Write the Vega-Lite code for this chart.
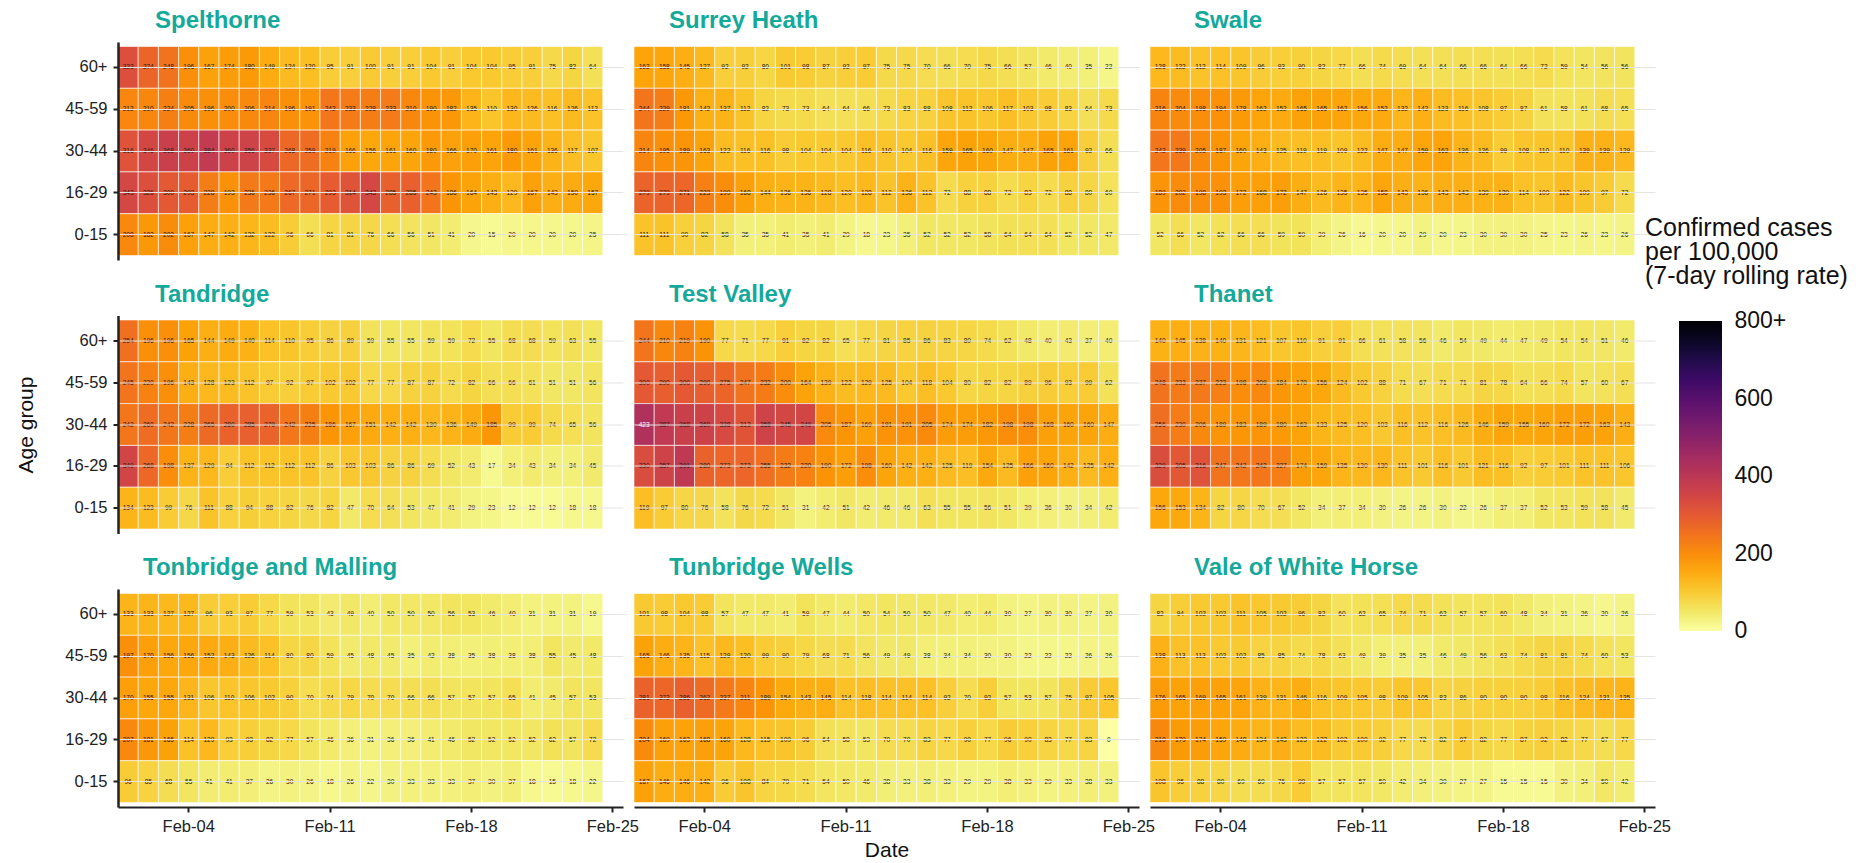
{"$schema":"https://vega.github.io/schema/vega-lite/v6.json","autosize":{"type":"pad"},"padding":{"left":15,"top":9,"right":0,"bottom":0},"background":"white","columns":3,"spacing":{"row":55.5,"column":11},"bounds":"flush",
"config":{"view":{"stroke":null},"font":"Liberation Sans","title":{"fontSize":24,"font":"Liberation Sans","fontWeight":"bold","color":"#14A99A","anchor":"start","offset":9,"frame":"group"},"axis":{"labelFont":"Liberation Sans","titleFont":"Liberation Sans","labelFontSize":16.5,"labelColor":"#222","titleFontSize":21,"titleFontWeight":"normal","titleColor":"#111","domainColor":"#222","tickColor":"#222","tickSize":5,"grid":false,"labelAngle":0},"axisX":{"domainWidth":2,"tickWidth":2,"labelPadding":6,"titlePadding":5,"labelExpr":"'Feb-'+(datum.value<10?'0':'')+datum.value"},"axisY":{"domainWidth":2.5,"tickWidth":2,"labelPadding":6,"titlePadding":28.6,"grid":true,"gridColor":"#e4e4e4","gridWidth":1},"scale":{"bandPaddingInner":0,"bandPaddingOuter":0}},
"data":{"values":[
{"p":1,"g":"60+","d":1,"v":323},{"p":1,"g":"60+","d":2,"v":274},{"p":1,"g":"60+","d":3,"v":248},{"p":1,"g":"60+","d":4,"v":196},{"p":1,"g":"60+","d":5,"v":167},{"p":1,"g":"60+","d":6,"v":174},{"p":1,"g":"60+","d":7,"v":180},{"p":1,"g":"60+","d":8,"v":149},{"p":1,"g":"60+","d":9,"v":124},{"p":1,"g":"60+","d":10,"v":120},{"p":1,"g":"60+","d":11,"v":95},{"p":1,"g":"60+","d":12,"v":91},{"p":1,"g":"60+","d":13,"v":100},{"p":1,"g":"60+","d":14,"v":91},{"p":1,"g":"60+","d":15,"v":91},{"p":1,"g":"60+","d":16,"v":104},{"p":1,"g":"60+","d":17,"v":91},{"p":1,"g":"60+","d":18,"v":104},{"p":1,"g":"60+","d":19,"v":104},{"p":1,"g":"60+","d":20,"v":95},{"p":1,"g":"60+","d":21,"v":91},{"p":1,"g":"60+","d":22,"v":75},{"p":1,"g":"60+","d":23,"v":82},{"p":1,"g":"60+","d":24,"v":64},
{"p":1,"g":"45-59","d":1,"v":212},{"p":1,"g":"45-59","d":2,"v":210},{"p":1,"g":"45-59","d":3,"v":224},{"p":1,"g":"45-59","d":4,"v":205},{"p":1,"g":"45-59","d":5,"v":196},{"p":1,"g":"45-59","d":6,"v":200},{"p":1,"g":"45-59","d":7,"v":206},{"p":1,"g":"45-59","d":8,"v":214},{"p":1,"g":"45-59","d":9,"v":196},{"p":1,"g":"45-59","d":10,"v":191},{"p":1,"g":"45-59","d":11,"v":242},{"p":1,"g":"45-59","d":12,"v":233},{"p":1,"g":"45-59","d":13,"v":228},{"p":1,"g":"45-59","d":14,"v":233},{"p":1,"g":"45-59","d":15,"v":210},{"p":1,"g":"45-59","d":16,"v":190},{"p":1,"g":"45-59","d":17,"v":182},{"p":1,"g":"45-59","d":18,"v":135},{"p":1,"g":"45-59","d":19,"v":110},{"p":1,"g":"45-59","d":20,"v":130},{"p":1,"g":"45-59","d":21,"v":126},{"p":1,"g":"45-59","d":22,"v":116},{"p":1,"g":"45-59","d":23,"v":126},{"p":1,"g":"45-59","d":24,"v":112},
{"p":1,"g":"30-44","d":1,"v":316},{"p":1,"g":"30-44","d":2,"v":346},{"p":1,"g":"30-44","d":3,"v":368},{"p":1,"g":"30-44","d":4,"v":360},{"p":1,"g":"30-44","d":5,"v":384},{"p":1,"g":"30-44","d":6,"v":360},{"p":1,"g":"30-44","d":7,"v":356},{"p":1,"g":"30-44","d":8,"v":337},{"p":1,"g":"30-44","d":9,"v":268},{"p":1,"g":"30-44","d":10,"v":259},{"p":1,"g":"30-44","d":11,"v":219},{"p":1,"g":"30-44","d":12,"v":166},{"p":1,"g":"30-44","d":13,"v":156},{"p":1,"g":"30-44","d":14,"v":161},{"p":1,"g":"30-44","d":15,"v":160},{"p":1,"g":"30-44","d":16,"v":180},{"p":1,"g":"30-44","d":17,"v":166},{"p":1,"g":"30-44","d":18,"v":170},{"p":1,"g":"30-44","d":19,"v":161},{"p":1,"g":"30-44","d":20,"v":180},{"p":1,"g":"30-44","d":21,"v":161},{"p":1,"g":"30-44","d":22,"v":136},{"p":1,"g":"30-44","d":23,"v":117},{"p":1,"g":"30-44","d":24,"v":107},
{"p":1,"g":"16-29","d":1,"v":343},{"p":1,"g":"16-29","d":2,"v":326},{"p":1,"g":"16-29","d":3,"v":300},{"p":1,"g":"16-29","d":4,"v":293},{"p":1,"g":"16-29","d":5,"v":228},{"p":1,"g":"16-29","d":6,"v":193},{"p":1,"g":"16-29","d":7,"v":236},{"p":1,"g":"16-29","d":8,"v":236},{"p":1,"g":"16-29","d":9,"v":267},{"p":1,"g":"16-29","d":10,"v":271},{"p":1,"g":"16-29","d":11,"v":293},{"p":1,"g":"16-29","d":12,"v":314},{"p":1,"g":"16-29","d":13,"v":343},{"p":1,"g":"16-29","d":14,"v":285},{"p":1,"g":"16-29","d":15,"v":285},{"p":1,"g":"16-29","d":16,"v":243},{"p":1,"g":"16-29","d":17,"v":186},{"p":1,"g":"16-29","d":18,"v":164},{"p":1,"g":"16-29","d":19,"v":143},{"p":1,"g":"16-29","d":20,"v":129},{"p":1,"g":"16-29","d":21,"v":167},{"p":1,"g":"16-29","d":22,"v":143},{"p":1,"g":"16-29","d":23,"v":150},{"p":1,"g":"16-29","d":24,"v":157},
{"p":1,"g":"0-15","d":1,"v":208},{"p":1,"g":"0-15","d":2,"v":182},{"p":1,"g":"0-15","d":3,"v":202},{"p":1,"g":"0-15","d":4,"v":167},{"p":1,"g":"0-15","d":5,"v":147},{"p":1,"g":"0-15","d":6,"v":142},{"p":1,"g":"0-15","d":7,"v":132},{"p":1,"g":"0-15","d":8,"v":122},{"p":1,"g":"0-15","d":9,"v":96},{"p":1,"g":"0-15","d":10,"v":66},{"p":1,"g":"0-15","d":11,"v":81},{"p":1,"g":"0-15","d":12,"v":81},{"p":1,"g":"0-15","d":13,"v":76},{"p":1,"g":"0-15","d":14,"v":66},{"p":1,"g":"0-15","d":15,"v":56},{"p":1,"g":"0-15","d":16,"v":51},{"p":1,"g":"0-15","d":17,"v":41},{"p":1,"g":"0-15","d":18,"v":20},{"p":1,"g":"0-15","d":19,"v":15},{"p":1,"g":"0-15","d":20,"v":20},{"p":1,"g":"0-15","d":21,"v":20},{"p":1,"g":"0-15","d":22,"v":20},{"p":1,"g":"0-15","d":23,"v":20},{"p":1,"g":"0-15","d":24,"v":25},
{"p":2,"g":"60+","d":1,"v":162},{"p":2,"g":"60+","d":2,"v":158},{"p":2,"g":"60+","d":3,"v":145},{"p":2,"g":"60+","d":4,"v":127},{"p":2,"g":"60+","d":5,"v":92},{"p":2,"g":"60+","d":6,"v":92},{"p":2,"g":"60+","d":7,"v":80},{"p":2,"g":"60+","d":8,"v":101},{"p":2,"g":"60+","d":9,"v":98},{"p":2,"g":"60+","d":10,"v":87},{"p":2,"g":"60+","d":11,"v":92},{"p":2,"g":"60+","d":12,"v":97},{"p":2,"g":"60+","d":13,"v":75},{"p":2,"g":"60+","d":14,"v":75},{"p":2,"g":"60+","d":15,"v":70},{"p":2,"g":"60+","d":16,"v":66},{"p":2,"g":"60+","d":17,"v":70},{"p":2,"g":"60+","d":18,"v":75},{"p":2,"g":"60+","d":19,"v":66},{"p":2,"g":"60+","d":20,"v":57},{"p":2,"g":"60+","d":21,"v":46},{"p":2,"g":"60+","d":22,"v":40},{"p":2,"g":"60+","d":23,"v":35},{"p":2,"g":"60+","d":24,"v":22},
{"p":2,"g":"45-59","d":1,"v":244},{"p":2,"g":"45-59","d":2,"v":229},{"p":2,"g":"45-59","d":3,"v":181},{"p":2,"g":"45-59","d":4,"v":142},{"p":2,"g":"45-59","d":5,"v":137},{"p":2,"g":"45-59","d":6,"v":112},{"p":2,"g":"45-59","d":7,"v":82},{"p":2,"g":"45-59","d":8,"v":73},{"p":2,"g":"45-59","d":9,"v":73},{"p":2,"g":"45-59","d":10,"v":64},{"p":2,"g":"45-59","d":11,"v":64},{"p":2,"g":"45-59","d":12,"v":66},{"p":2,"g":"45-59","d":13,"v":73},{"p":2,"g":"45-59","d":14,"v":83},{"p":2,"g":"45-59","d":15,"v":88},{"p":2,"g":"45-59","d":16,"v":108},{"p":2,"g":"45-59","d":17,"v":112},{"p":2,"g":"45-59","d":18,"v":106},{"p":2,"g":"45-59","d":19,"v":117},{"p":2,"g":"45-59","d":20,"v":103},{"p":2,"g":"45-59","d":21,"v":98},{"p":2,"g":"45-59","d":22,"v":83},{"p":2,"g":"45-59","d":23,"v":64},{"p":2,"g":"45-59","d":24,"v":73},
{"p":2,"g":"30-44","d":1,"v":214},{"p":2,"g":"30-44","d":2,"v":195},{"p":2,"g":"30-44","d":3,"v":189},{"p":2,"g":"30-44","d":4,"v":163},{"p":2,"g":"30-44","d":5,"v":122},{"p":2,"g":"30-44","d":6,"v":116},{"p":2,"g":"30-44","d":7,"v":116},{"p":2,"g":"30-44","d":8,"v":98},{"p":2,"g":"30-44","d":9,"v":104},{"p":2,"g":"30-44","d":10,"v":104},{"p":2,"g":"30-44","d":11,"v":104},{"p":2,"g":"30-44","d":12,"v":116},{"p":2,"g":"30-44","d":13,"v":110},{"p":2,"g":"30-44","d":14,"v":104},{"p":2,"g":"30-44","d":15,"v":116},{"p":2,"g":"30-44","d":16,"v":159},{"p":2,"g":"30-44","d":17,"v":165},{"p":2,"g":"30-44","d":18,"v":160},{"p":2,"g":"30-44","d":19,"v":147},{"p":2,"g":"30-44","d":20,"v":147},{"p":2,"g":"30-44","d":21,"v":165},{"p":2,"g":"30-44","d":22,"v":161},{"p":2,"g":"30-44","d":23,"v":92},{"p":2,"g":"30-44","d":24,"v":66},
{"p":2,"g":"16-29","d":1,"v":279},{"p":2,"g":"16-29","d":2,"v":279},{"p":2,"g":"16-29","d":3,"v":271},{"p":2,"g":"16-29","d":4,"v":223},{"p":2,"g":"16-29","d":5,"v":199},{"p":2,"g":"16-29","d":6,"v":168},{"p":2,"g":"16-29","d":7,"v":144},{"p":2,"g":"16-29","d":8,"v":136},{"p":2,"g":"16-29","d":9,"v":136},{"p":2,"g":"16-29","d":10,"v":128},{"p":2,"g":"16-29","d":11,"v":120},{"p":2,"g":"16-29","d":12,"v":128},{"p":2,"g":"16-29","d":13,"v":112},{"p":2,"g":"16-29","d":14,"v":136},{"p":2,"g":"16-29","d":15,"v":112},{"p":2,"g":"16-29","d":16,"v":72},{"p":2,"g":"16-29","d":17,"v":88},{"p":2,"g":"16-29","d":18,"v":88},{"p":2,"g":"16-29","d":19,"v":72},{"p":2,"g":"16-29","d":20,"v":83},{"p":2,"g":"16-29","d":21,"v":72},{"p":2,"g":"16-29","d":22,"v":88},{"p":2,"g":"16-29","d":23,"v":80},{"p":2,"g":"16-29","d":24,"v":60},
{"p":2,"g":"0-15","d":1,"v":111},{"p":2,"g":"0-15","d":2,"v":111},{"p":2,"g":"0-15","d":3,"v":90},{"p":2,"g":"0-15","d":4,"v":82},{"p":2,"g":"0-15","d":5,"v":58},{"p":2,"g":"0-15","d":6,"v":35},{"p":2,"g":"0-15","d":7,"v":35},{"p":2,"g":"0-15","d":8,"v":41},{"p":2,"g":"0-15","d":9,"v":35},{"p":2,"g":"0-15","d":10,"v":41},{"p":2,"g":"0-15","d":11,"v":29},{"p":2,"g":"0-15","d":12,"v":18},{"p":2,"g":"0-15","d":13,"v":23},{"p":2,"g":"0-15","d":14,"v":35},{"p":2,"g":"0-15","d":15,"v":52},{"p":2,"g":"0-15","d":16,"v":52},{"p":2,"g":"0-15","d":17,"v":52},{"p":2,"g":"0-15","d":18,"v":58},{"p":2,"g":"0-15","d":19,"v":64},{"p":2,"g":"0-15","d":20,"v":64},{"p":2,"g":"0-15","d":21,"v":64},{"p":2,"g":"0-15","d":22,"v":52},{"p":2,"g":"0-15","d":23,"v":52},{"p":2,"g":"0-15","d":24,"v":47},
{"p":3,"g":"60+","d":1,"v":128},{"p":3,"g":"60+","d":2,"v":122},{"p":3,"g":"60+","d":3,"v":112},{"p":3,"g":"60+","d":4,"v":114},{"p":3,"g":"60+","d":5,"v":109},{"p":3,"g":"60+","d":6,"v":96},{"p":3,"g":"60+","d":7,"v":93},{"p":3,"g":"60+","d":8,"v":90},{"p":3,"g":"60+","d":9,"v":82},{"p":3,"g":"60+","d":10,"v":77},{"p":3,"g":"60+","d":11,"v":66},{"p":3,"g":"60+","d":12,"v":74},{"p":3,"g":"60+","d":13,"v":69},{"p":3,"g":"60+","d":14,"v":64},{"p":3,"g":"60+","d":15,"v":64},{"p":3,"g":"60+","d":16,"v":66},{"p":3,"g":"60+","d":17,"v":66},{"p":3,"g":"60+","d":18,"v":64},{"p":3,"g":"60+","d":19,"v":66},{"p":3,"g":"60+","d":20,"v":72},{"p":3,"g":"60+","d":21,"v":59},{"p":3,"g":"60+","d":22,"v":54},{"p":3,"g":"60+","d":23,"v":56},{"p":3,"g":"60+","d":24,"v":56},
{"p":3,"g":"45-59","d":1,"v":216},{"p":3,"g":"45-59","d":2,"v":204},{"p":3,"g":"45-59","d":3,"v":198},{"p":3,"g":"45-59","d":4,"v":194},{"p":3,"g":"45-59","d":5,"v":178},{"p":3,"g":"45-59","d":6,"v":162},{"p":3,"g":"45-59","d":7,"v":152},{"p":3,"g":"45-59","d":8,"v":165},{"p":3,"g":"45-59","d":9,"v":165},{"p":3,"g":"45-59","d":10,"v":162},{"p":3,"g":"45-59","d":11,"v":156},{"p":3,"g":"45-59","d":12,"v":152},{"p":3,"g":"45-59","d":13,"v":132},{"p":3,"g":"45-59","d":14,"v":142},{"p":3,"g":"45-59","d":15,"v":123},{"p":3,"g":"45-59","d":16,"v":116},{"p":3,"g":"45-59","d":17,"v":108},{"p":3,"g":"45-59","d":18,"v":97},{"p":3,"g":"45-59","d":19,"v":87},{"p":3,"g":"45-59","d":20,"v":61},{"p":3,"g":"45-59","d":21,"v":58},{"p":3,"g":"45-59","d":22,"v":61},{"p":3,"g":"45-59","d":23,"v":68},{"p":3,"g":"45-59","d":24,"v":65},
{"p":3,"g":"30-44","d":1,"v":242},{"p":3,"g":"30-44","d":2,"v":239},{"p":3,"g":"30-44","d":3,"v":205},{"p":3,"g":"30-44","d":4,"v":187},{"p":3,"g":"30-44","d":5,"v":160},{"p":3,"g":"30-44","d":6,"v":143},{"p":3,"g":"30-44","d":7,"v":125},{"p":3,"g":"30-44","d":8,"v":119},{"p":3,"g":"30-44","d":9,"v":119},{"p":3,"g":"30-44","d":10,"v":109},{"p":3,"g":"30-44","d":11,"v":122},{"p":3,"g":"30-44","d":12,"v":147},{"p":3,"g":"30-44","d":13,"v":147},{"p":3,"g":"30-44","d":14,"v":159},{"p":3,"g":"30-44","d":15,"v":162},{"p":3,"g":"30-44","d":16,"v":136},{"p":3,"g":"30-44","d":17,"v":126},{"p":3,"g":"30-44","d":18,"v":99},{"p":3,"g":"30-44","d":19,"v":108},{"p":3,"g":"30-44","d":20,"v":110},{"p":3,"g":"30-44","d":21,"v":110},{"p":3,"g":"30-44","d":22,"v":139},{"p":3,"g":"30-44","d":23,"v":139},{"p":3,"g":"30-44","d":24,"v":129},
{"p":3,"g":"16-29","d":1,"v":189},{"p":3,"g":"16-29","d":2,"v":202},{"p":3,"g":"16-29","d":3,"v":198},{"p":3,"g":"16-29","d":4,"v":193},{"p":3,"g":"16-29","d":5,"v":172},{"p":3,"g":"16-29","d":6,"v":168},{"p":3,"g":"16-29","d":7,"v":172},{"p":3,"g":"16-29","d":8,"v":147},{"p":3,"g":"16-29","d":9,"v":126},{"p":3,"g":"16-29","d":10,"v":135},{"p":3,"g":"16-29","d":11,"v":135},{"p":3,"g":"16-29","d":12,"v":158},{"p":3,"g":"16-29","d":13,"v":143},{"p":3,"g":"16-29","d":14,"v":136},{"p":3,"g":"16-29","d":15,"v":143},{"p":3,"g":"16-29","d":16,"v":143},{"p":3,"g":"16-29","d":17,"v":139},{"p":3,"g":"16-29","d":18,"v":139},{"p":3,"g":"16-29","d":19,"v":114},{"p":3,"g":"16-29","d":20,"v":109},{"p":3,"g":"16-29","d":21,"v":122},{"p":3,"g":"16-29","d":22,"v":109},{"p":3,"g":"16-29","d":23,"v":97},{"p":3,"g":"16-29","d":24,"v":72},
{"p":3,"g":"0-15","d":1,"v":52},{"p":3,"g":"0-15","d":2,"v":66},{"p":3,"g":"0-15","d":3,"v":52},{"p":3,"g":"0-15","d":4,"v":62},{"p":3,"g":"0-15","d":5,"v":66},{"p":3,"g":"0-15","d":6,"v":66},{"p":3,"g":"0-15","d":7,"v":59},{"p":3,"g":"0-15","d":8,"v":59},{"p":3,"g":"0-15","d":9,"v":39},{"p":3,"g":"0-15","d":10,"v":26},{"p":3,"g":"0-15","d":11,"v":16},{"p":3,"g":"0-15","d":12,"v":20},{"p":3,"g":"0-15","d":13,"v":20},{"p":3,"g":"0-15","d":14,"v":29},{"p":3,"g":"0-15","d":15,"v":20},{"p":3,"g":"0-15","d":16,"v":23},{"p":3,"g":"0-15","d":17,"v":30},{"p":3,"g":"0-15","d":18,"v":30},{"p":3,"g":"0-15","d":19,"v":30},{"p":3,"g":"0-15","d":20,"v":25},{"p":3,"g":"0-15","d":21,"v":23},{"p":3,"g":"0-15","d":22,"v":26},{"p":3,"g":"0-15","d":23,"v":23},{"p":3,"g":"0-15","d":24,"v":26},
{"p":4,"g":"60+","d":1,"v":254},{"p":4,"g":"60+","d":2,"v":196},{"p":4,"g":"60+","d":3,"v":196},{"p":4,"g":"60+","d":4,"v":165},{"p":4,"g":"60+","d":5,"v":144},{"p":4,"g":"60+","d":6,"v":149},{"p":4,"g":"60+","d":7,"v":140},{"p":4,"g":"60+","d":8,"v":114},{"p":4,"g":"60+","d":9,"v":110},{"p":4,"g":"60+","d":10,"v":95},{"p":4,"g":"60+","d":11,"v":86},{"p":4,"g":"60+","d":12,"v":89},{"p":4,"g":"60+","d":13,"v":59},{"p":4,"g":"60+","d":14,"v":55},{"p":4,"g":"60+","d":15,"v":55},{"p":4,"g":"60+","d":16,"v":59},{"p":4,"g":"60+","d":17,"v":59},{"p":4,"g":"60+","d":18,"v":72},{"p":4,"g":"60+","d":19,"v":55},{"p":4,"g":"60+","d":20,"v":68},{"p":4,"g":"60+","d":21,"v":68},{"p":4,"g":"60+","d":22,"v":59},{"p":4,"g":"60+","d":23,"v":63},{"p":4,"g":"60+","d":24,"v":55},
{"p":4,"g":"45-59","d":1,"v":245},{"p":4,"g":"45-59","d":2,"v":220},{"p":4,"g":"45-59","d":3,"v":196},{"p":4,"g":"45-59","d":4,"v":143},{"p":4,"g":"45-59","d":5,"v":128},{"p":4,"g":"45-59","d":6,"v":123},{"p":4,"g":"45-59","d":7,"v":112},{"p":4,"g":"45-59","d":8,"v":97},{"p":4,"g":"45-59","d":9,"v":92},{"p":4,"g":"45-59","d":10,"v":97},{"p":4,"g":"45-59","d":11,"v":102},{"p":4,"g":"45-59","d":12,"v":102},{"p":4,"g":"45-59","d":13,"v":77},{"p":4,"g":"45-59","d":14,"v":77},{"p":4,"g":"45-59","d":15,"v":87},{"p":4,"g":"45-59","d":16,"v":87},{"p":4,"g":"45-59","d":17,"v":72},{"p":4,"g":"45-59","d":18,"v":82},{"p":4,"g":"45-59","d":19,"v":66},{"p":4,"g":"45-59","d":20,"v":66},{"p":4,"g":"45-59","d":21,"v":61},{"p":4,"g":"45-59","d":22,"v":51},{"p":4,"g":"45-59","d":23,"v":51},{"p":4,"g":"45-59","d":24,"v":56},
{"p":4,"g":"30-44","d":1,"v":242},{"p":4,"g":"30-44","d":2,"v":260},{"p":4,"g":"30-44","d":3,"v":242},{"p":4,"g":"30-44","d":4,"v":228},{"p":4,"g":"30-44","d":5,"v":265},{"p":4,"g":"30-44","d":6,"v":280},{"p":4,"g":"30-44","d":7,"v":285},{"p":4,"g":"30-44","d":8,"v":279},{"p":4,"g":"30-44","d":9,"v":242},{"p":4,"g":"30-44","d":10,"v":225},{"p":4,"g":"30-44","d":11,"v":186},{"p":4,"g":"30-44","d":12,"v":167},{"p":4,"g":"30-44","d":13,"v":151},{"p":4,"g":"30-44","d":14,"v":142},{"p":4,"g":"30-44","d":15,"v":142},{"p":4,"g":"30-44","d":16,"v":130},{"p":4,"g":"30-44","d":17,"v":136},{"p":4,"g":"30-44","d":18,"v":149},{"p":4,"g":"30-44","d":19,"v":185},{"p":4,"g":"30-44","d":20,"v":99},{"p":4,"g":"30-44","d":21,"v":99},{"p":4,"g":"30-44","d":22,"v":74},{"p":4,"g":"30-44","d":23,"v":65},{"p":4,"g":"30-44","d":24,"v":56},
{"p":4,"g":"16-29","d":1,"v":349},{"p":4,"g":"16-29","d":2,"v":268},{"p":4,"g":"16-29","d":3,"v":198},{"p":4,"g":"16-29","d":4,"v":137},{"p":4,"g":"16-29","d":5,"v":129},{"p":4,"g":"16-29","d":6,"v":94},{"p":4,"g":"16-29","d":7,"v":112},{"p":4,"g":"16-29","d":8,"v":112},{"p":4,"g":"16-29","d":9,"v":112},{"p":4,"g":"16-29","d":10,"v":112},{"p":4,"g":"16-29","d":11,"v":86},{"p":4,"g":"16-29","d":12,"v":103},{"p":4,"g":"16-29","d":13,"v":103},{"p":4,"g":"16-29","d":14,"v":86},{"p":4,"g":"16-29","d":15,"v":86},{"p":4,"g":"16-29","d":16,"v":69},{"p":4,"g":"16-29","d":17,"v":52},{"p":4,"g":"16-29","d":18,"v":43},{"p":4,"g":"16-29","d":19,"v":17},{"p":4,"g":"16-29","d":20,"v":34},{"p":4,"g":"16-29","d":21,"v":43},{"p":4,"g":"16-29","d":22,"v":34},{"p":4,"g":"16-29","d":23,"v":34},{"p":4,"g":"16-29","d":24,"v":45},
{"p":4,"g":"0-15","d":1,"v":134},{"p":4,"g":"0-15","d":2,"v":123},{"p":4,"g":"0-15","d":3,"v":99},{"p":4,"g":"0-15","d":4,"v":76},{"p":4,"g":"0-15","d":5,"v":111},{"p":4,"g":"0-15","d":6,"v":88},{"p":4,"g":"0-15","d":7,"v":94},{"p":4,"g":"0-15","d":8,"v":88},{"p":4,"g":"0-15","d":9,"v":82},{"p":4,"g":"0-15","d":10,"v":76},{"p":4,"g":"0-15","d":11,"v":82},{"p":4,"g":"0-15","d":12,"v":47},{"p":4,"g":"0-15","d":13,"v":70},{"p":4,"g":"0-15","d":14,"v":64},{"p":4,"g":"0-15","d":15,"v":53},{"p":4,"g":"0-15","d":16,"v":47},{"p":4,"g":"0-15","d":17,"v":41},{"p":4,"g":"0-15","d":18,"v":29},{"p":4,"g":"0-15","d":19,"v":23},{"p":4,"g":"0-15","d":20,"v":12},{"p":4,"g":"0-15","d":21,"v":12},{"p":4,"g":"0-15","d":22,"v":12},{"p":4,"g":"0-15","d":23,"v":18},{"p":4,"g":"0-15","d":24,"v":18},
{"p":5,"g":"60+","d":1,"v":244},{"p":5,"g":"60+","d":2,"v":210},{"p":5,"g":"60+","d":3,"v":219},{"p":5,"g":"60+","d":4,"v":190},{"p":5,"g":"60+","d":5,"v":77},{"p":5,"g":"60+","d":6,"v":71},{"p":5,"g":"60+","d":7,"v":77},{"p":5,"g":"60+","d":8,"v":91},{"p":5,"g":"60+","d":9,"v":82},{"p":5,"g":"60+","d":10,"v":82},{"p":5,"g":"60+","d":11,"v":65},{"p":5,"g":"60+","d":12,"v":77},{"p":5,"g":"60+","d":13,"v":81},{"p":5,"g":"60+","d":14,"v":85},{"p":5,"g":"60+","d":15,"v":86},{"p":5,"g":"60+","d":16,"v":83},{"p":5,"g":"60+","d":17,"v":80},{"p":5,"g":"60+","d":18,"v":74},{"p":5,"g":"60+","d":19,"v":62},{"p":5,"g":"60+","d":20,"v":48},{"p":5,"g":"60+","d":21,"v":40},{"p":5,"g":"60+","d":22,"v":43},{"p":5,"g":"60+","d":23,"v":37},{"p":5,"g":"60+","d":24,"v":40},
{"p":5,"g":"45-59","d":1,"v":300},{"p":5,"g":"45-59","d":2,"v":290},{"p":5,"g":"45-59","d":3,"v":300},{"p":5,"g":"45-59","d":4,"v":290},{"p":5,"g":"45-59","d":5,"v":275},{"p":5,"g":"45-59","d":6,"v":247},{"p":5,"g":"45-59","d":7,"v":232},{"p":5,"g":"45-59","d":8,"v":200},{"p":5,"g":"45-59","d":9,"v":164},{"p":5,"g":"45-59","d":10,"v":139},{"p":5,"g":"45-59","d":11,"v":122},{"p":5,"g":"45-59","d":12,"v":129},{"p":5,"g":"45-59","d":13,"v":125},{"p":5,"g":"45-59","d":14,"v":104},{"p":5,"g":"45-59","d":15,"v":118},{"p":5,"g":"45-59","d":16,"v":104},{"p":5,"g":"45-59","d":17,"v":80},{"p":5,"g":"45-59","d":18,"v":82},{"p":5,"g":"45-59","d":19,"v":82},{"p":5,"g":"45-59","d":20,"v":89},{"p":5,"g":"45-59","d":21,"v":96},{"p":5,"g":"45-59","d":22,"v":93},{"p":5,"g":"45-59","d":23,"v":99},{"p":5,"g":"45-59","d":24,"v":62},
{"p":5,"g":"30-44","d":1,"v":423},{"p":5,"g":"30-44","d":2,"v":387},{"p":5,"g":"30-44","d":3,"v":368},{"p":5,"g":"30-44","d":4,"v":360},{"p":5,"g":"30-44","d":5,"v":338},{"p":5,"g":"30-44","d":6,"v":313},{"p":5,"g":"30-44","d":7,"v":358},{"p":5,"g":"30-44","d":8,"v":345},{"p":5,"g":"30-44","d":9,"v":349},{"p":5,"g":"30-44","d":10,"v":205},{"p":5,"g":"30-44","d":11,"v":187},{"p":5,"g":"30-44","d":12,"v":169},{"p":5,"g":"30-44","d":13,"v":191},{"p":5,"g":"30-44","d":14,"v":191},{"p":5,"g":"30-44","d":15,"v":205},{"p":5,"g":"30-44","d":16,"v":174},{"p":5,"g":"30-44","d":17,"v":174},{"p":5,"g":"30-44","d":18,"v":182},{"p":5,"g":"30-44","d":19,"v":198},{"p":5,"g":"30-44","d":20,"v":198},{"p":5,"g":"30-44","d":21,"v":168},{"p":5,"g":"30-44","d":22,"v":160},{"p":5,"g":"30-44","d":23,"v":160},{"p":5,"g":"30-44","d":24,"v":147},
{"p":5,"g":"16-29","d":1,"v":330},{"p":5,"g":"16-29","d":2,"v":357},{"p":5,"g":"16-29","d":3,"v":391},{"p":5,"g":"16-29","d":4,"v":280},{"p":5,"g":"16-29","d":5,"v":273},{"p":5,"g":"16-29","d":6,"v":273},{"p":5,"g":"16-29","d":7,"v":255},{"p":5,"g":"16-29","d":8,"v":232},{"p":5,"g":"16-29","d":9,"v":220},{"p":5,"g":"16-29","d":10,"v":190},{"p":5,"g":"16-29","d":11,"v":172},{"p":5,"g":"16-29","d":12,"v":198},{"p":5,"g":"16-29","d":13,"v":160},{"p":5,"g":"16-29","d":14,"v":142},{"p":5,"g":"16-29","d":15,"v":142},{"p":5,"g":"16-29","d":16,"v":125},{"p":5,"g":"16-29","d":17,"v":119},{"p":5,"g":"16-29","d":18,"v":154},{"p":5,"g":"16-29","d":19,"v":125},{"p":5,"g":"16-29","d":20,"v":166},{"p":5,"g":"16-29","d":21,"v":160},{"p":5,"g":"16-29","d":22,"v":142},{"p":5,"g":"16-29","d":23,"v":125},{"p":5,"g":"16-29","d":24,"v":142},
{"p":5,"g":"0-15","d":1,"v":119},{"p":5,"g":"0-15","d":2,"v":97},{"p":5,"g":"0-15","d":3,"v":80},{"p":5,"g":"0-15","d":4,"v":76},{"p":5,"g":"0-15","d":5,"v":58},{"p":5,"g":"0-15","d":6,"v":76},{"p":5,"g":"0-15","d":7,"v":72},{"p":5,"g":"0-15","d":8,"v":51},{"p":5,"g":"0-15","d":9,"v":31},{"p":5,"g":"0-15","d":10,"v":42},{"p":5,"g":"0-15","d":11,"v":51},{"p":5,"g":"0-15","d":12,"v":42},{"p":5,"g":"0-15","d":13,"v":46},{"p":5,"g":"0-15","d":14,"v":46},{"p":5,"g":"0-15","d":15,"v":63},{"p":5,"g":"0-15","d":16,"v":55},{"p":5,"g":"0-15","d":17,"v":55},{"p":5,"g":"0-15","d":18,"v":56},{"p":5,"g":"0-15","d":19,"v":51},{"p":5,"g":"0-15","d":20,"v":39},{"p":5,"g":"0-15","d":21,"v":36},{"p":5,"g":"0-15","d":22,"v":30},{"p":5,"g":"0-15","d":23,"v":34},{"p":5,"g":"0-15","d":24,"v":42},
{"p":6,"g":"60+","d":1,"v":140},{"p":6,"g":"60+","d":2,"v":145},{"p":6,"g":"60+","d":3,"v":138},{"p":6,"g":"60+","d":4,"v":140},{"p":6,"g":"60+","d":5,"v":131},{"p":6,"g":"60+","d":6,"v":121},{"p":6,"g":"60+","d":7,"v":107},{"p":6,"g":"60+","d":8,"v":110},{"p":6,"g":"60+","d":9,"v":91},{"p":6,"g":"60+","d":10,"v":91},{"p":6,"g":"60+","d":11,"v":66},{"p":6,"g":"60+","d":12,"v":61},{"p":6,"g":"60+","d":13,"v":58},{"p":6,"g":"60+","d":14,"v":56},{"p":6,"g":"60+","d":15,"v":46},{"p":6,"g":"60+","d":16,"v":54},{"p":6,"g":"60+","d":17,"v":49},{"p":6,"g":"60+","d":18,"v":44},{"p":6,"g":"60+","d":19,"v":47},{"p":6,"g":"60+","d":20,"v":49},{"p":6,"g":"60+","d":21,"v":54},{"p":6,"g":"60+","d":22,"v":54},{"p":6,"g":"60+","d":23,"v":51},{"p":6,"g":"60+","d":24,"v":46},
{"p":6,"g":"45-59","d":1,"v":248},{"p":6,"g":"45-59","d":2,"v":233},{"p":6,"g":"45-59","d":3,"v":237},{"p":6,"g":"45-59","d":4,"v":223},{"p":6,"g":"45-59","d":5,"v":198},{"p":6,"g":"45-59","d":6,"v":209},{"p":6,"g":"45-59","d":7,"v":184},{"p":6,"g":"45-59","d":8,"v":170},{"p":6,"g":"45-59","d":9,"v":156},{"p":6,"g":"45-59","d":10,"v":124},{"p":6,"g":"45-59","d":11,"v":102},{"p":6,"g":"45-59","d":12,"v":88},{"p":6,"g":"45-59","d":13,"v":71},{"p":6,"g":"45-59","d":14,"v":67},{"p":6,"g":"45-59","d":15,"v":71},{"p":6,"g":"45-59","d":16,"v":71},{"p":6,"g":"45-59","d":17,"v":81},{"p":6,"g":"45-59","d":18,"v":78},{"p":6,"g":"45-59","d":19,"v":64},{"p":6,"g":"45-59","d":20,"v":66},{"p":6,"g":"45-59","d":21,"v":74},{"p":6,"g":"45-59","d":22,"v":57},{"p":6,"g":"45-59","d":23,"v":60},{"p":6,"g":"45-59","d":24,"v":67},
{"p":6,"g":"30-44","d":1,"v":256},{"p":6,"g":"30-44","d":2,"v":230},{"p":6,"g":"30-44","d":3,"v":206},{"p":6,"g":"30-44","d":4,"v":189},{"p":6,"g":"30-44","d":5,"v":183},{"p":6,"g":"30-44","d":6,"v":189},{"p":6,"g":"30-44","d":7,"v":180},{"p":6,"g":"30-44","d":8,"v":163},{"p":6,"g":"30-44","d":9,"v":133},{"p":6,"g":"30-44","d":10,"v":125},{"p":6,"g":"30-44","d":11,"v":120},{"p":6,"g":"30-44","d":12,"v":103},{"p":6,"g":"30-44","d":13,"v":116},{"p":6,"g":"30-44","d":14,"v":112},{"p":6,"g":"30-44","d":15,"v":116},{"p":6,"g":"30-44","d":16,"v":126},{"p":6,"g":"30-44","d":17,"v":146},{"p":6,"g":"30-44","d":18,"v":159},{"p":6,"g":"30-44","d":19,"v":155},{"p":6,"g":"30-44","d":20,"v":160},{"p":6,"g":"30-44","d":21,"v":172},{"p":6,"g":"30-44","d":22,"v":172},{"p":6,"g":"30-44","d":23,"v":163},{"p":6,"g":"30-44","d":24,"v":143},
{"p":6,"g":"16-29","d":1,"v":329},{"p":6,"g":"16-29","d":2,"v":305},{"p":6,"g":"16-29","d":3,"v":316},{"p":6,"g":"16-29","d":4,"v":247},{"p":6,"g":"16-29","d":5,"v":242},{"p":6,"g":"16-29","d":6,"v":242},{"p":6,"g":"16-29","d":7,"v":227},{"p":6,"g":"16-29","d":8,"v":174},{"p":6,"g":"16-29","d":9,"v":159},{"p":6,"g":"16-29","d":10,"v":135},{"p":6,"g":"16-29","d":11,"v":130},{"p":6,"g":"16-29","d":12,"v":130},{"p":6,"g":"16-29","d":13,"v":111},{"p":6,"g":"16-29","d":14,"v":101},{"p":6,"g":"16-29","d":15,"v":116},{"p":6,"g":"16-29","d":16,"v":101},{"p":6,"g":"16-29","d":17,"v":121},{"p":6,"g":"16-29","d":18,"v":116},{"p":6,"g":"16-29","d":19,"v":92},{"p":6,"g":"16-29","d":20,"v":97},{"p":6,"g":"16-29","d":21,"v":101},{"p":6,"g":"16-29","d":22,"v":111},{"p":6,"g":"16-29","d":23,"v":111},{"p":6,"g":"16-29","d":24,"v":106},
{"p":6,"g":"0-15","d":1,"v":156},{"p":6,"g":"0-15","d":2,"v":153},{"p":6,"g":"0-15","d":3,"v":134},{"p":6,"g":"0-15","d":4,"v":82},{"p":6,"g":"0-15","d":5,"v":80},{"p":6,"g":"0-15","d":6,"v":70},{"p":6,"g":"0-15","d":7,"v":67},{"p":6,"g":"0-15","d":8,"v":52},{"p":6,"g":"0-15","d":9,"v":34},{"p":6,"g":"0-15","d":10,"v":37},{"p":6,"g":"0-15","d":11,"v":34},{"p":6,"g":"0-15","d":12,"v":30},{"p":6,"g":"0-15","d":13,"v":26},{"p":6,"g":"0-15","d":14,"v":26},{"p":6,"g":"0-15","d":15,"v":30},{"p":6,"g":"0-15","d":16,"v":22},{"p":6,"g":"0-15","d":17,"v":26},{"p":6,"g":"0-15","d":18,"v":37},{"p":6,"g":"0-15","d":19,"v":37},{"p":6,"g":"0-15","d":20,"v":52},{"p":6,"g":"0-15","d":21,"v":53},{"p":6,"g":"0-15","d":22,"v":59},{"p":6,"g":"0-15","d":23,"v":58},{"p":6,"g":"0-15","d":24,"v":45},
{"p":7,"g":"60+","d":1,"v":133},{"p":7,"g":"60+","d":2,"v":133},{"p":7,"g":"60+","d":3,"v":127},{"p":7,"g":"60+","d":4,"v":127},{"p":7,"g":"60+","d":5,"v":96},{"p":7,"g":"60+","d":6,"v":93},{"p":7,"g":"60+","d":7,"v":97},{"p":7,"g":"60+","d":8,"v":77},{"p":7,"g":"60+","d":9,"v":59},{"p":7,"g":"60+","d":10,"v":53},{"p":7,"g":"60+","d":11,"v":43},{"p":7,"g":"60+","d":12,"v":49},{"p":7,"g":"60+","d":13,"v":40},{"p":7,"g":"60+","d":14,"v":50},{"p":7,"g":"60+","d":15,"v":50},{"p":7,"g":"60+","d":16,"v":50},{"p":7,"g":"60+","d":17,"v":56},{"p":7,"g":"60+","d":18,"v":53},{"p":7,"g":"60+","d":19,"v":46},{"p":7,"g":"60+","d":20,"v":40},{"p":7,"g":"60+","d":21,"v":31},{"p":7,"g":"60+","d":22,"v":31},{"p":7,"g":"60+","d":23,"v":31},{"p":7,"g":"60+","d":24,"v":19},
{"p":7,"g":"45-59","d":1,"v":197},{"p":7,"g":"45-59","d":2,"v":170},{"p":7,"g":"45-59","d":3,"v":156},{"p":7,"g":"45-59","d":4,"v":156},{"p":7,"g":"45-59","d":5,"v":152},{"p":7,"g":"45-59","d":6,"v":143},{"p":7,"g":"45-59","d":7,"v":126},{"p":7,"g":"45-59","d":8,"v":114},{"p":7,"g":"45-59","d":9,"v":80},{"p":7,"g":"45-59","d":10,"v":80},{"p":7,"g":"45-59","d":11,"v":59},{"p":7,"g":"45-59","d":12,"v":45},{"p":7,"g":"45-59","d":13,"v":48},{"p":7,"g":"45-59","d":14,"v":45},{"p":7,"g":"45-59","d":15,"v":35},{"p":7,"g":"45-59","d":16,"v":42},{"p":7,"g":"45-59","d":17,"v":38},{"p":7,"g":"45-59","d":18,"v":35},{"p":7,"g":"45-59","d":19,"v":38},{"p":7,"g":"45-59","d":20,"v":38},{"p":7,"g":"45-59","d":21,"v":38},{"p":7,"g":"45-59","d":22,"v":55},{"p":7,"g":"45-59","d":23,"v":45},{"p":7,"g":"45-59","d":24,"v":48},
{"p":7,"g":"30-44","d":1,"v":170},{"p":7,"g":"30-44","d":2,"v":155},{"p":7,"g":"30-44","d":3,"v":155},{"p":7,"g":"30-44","d":4,"v":131},{"p":7,"g":"30-44","d":5,"v":106},{"p":7,"g":"30-44","d":6,"v":110},{"p":7,"g":"30-44","d":7,"v":106},{"p":7,"g":"30-44","d":8,"v":102},{"p":7,"g":"30-44","d":9,"v":90},{"p":7,"g":"30-44","d":10,"v":70},{"p":7,"g":"30-44","d":11,"v":74},{"p":7,"g":"30-44","d":12,"v":79},{"p":7,"g":"30-44","d":13,"v":70},{"p":7,"g":"30-44","d":14,"v":70},{"p":7,"g":"30-44","d":15,"v":66},{"p":7,"g":"30-44","d":16,"v":66},{"p":7,"g":"30-44","d":17,"v":57},{"p":7,"g":"30-44","d":18,"v":57},{"p":7,"g":"30-44","d":19,"v":57},{"p":7,"g":"30-44","d":20,"v":65},{"p":7,"g":"30-44","d":21,"v":41},{"p":7,"g":"30-44","d":22,"v":45},{"p":7,"g":"30-44","d":23,"v":57},{"p":7,"g":"30-44","d":24,"v":53},
{"p":7,"g":"16-29","d":1,"v":207},{"p":7,"g":"16-29","d":2,"v":181},{"p":7,"g":"16-29","d":3,"v":165},{"p":7,"g":"16-29","d":4,"v":114},{"p":7,"g":"16-29","d":5,"v":129},{"p":7,"g":"16-29","d":6,"v":93},{"p":7,"g":"16-29","d":7,"v":93},{"p":7,"g":"16-29","d":8,"v":82},{"p":7,"g":"16-29","d":9,"v":77},{"p":7,"g":"16-29","d":10,"v":57},{"p":7,"g":"16-29","d":11,"v":46},{"p":7,"g":"16-29","d":12,"v":36},{"p":7,"g":"16-29","d":13,"v":31},{"p":7,"g":"16-29","d":14,"v":36},{"p":7,"g":"16-29","d":15,"v":36},{"p":7,"g":"16-29","d":16,"v":41},{"p":7,"g":"16-29","d":17,"v":46},{"p":7,"g":"16-29","d":18,"v":52},{"p":7,"g":"16-29","d":19,"v":52},{"p":7,"g":"16-29","d":20,"v":52},{"p":7,"g":"16-29","d":21,"v":52},{"p":7,"g":"16-29","d":22,"v":62},{"p":7,"g":"16-29","d":23,"v":57},{"p":7,"g":"16-29","d":24,"v":72},
{"p":7,"g":"0-15","d":1,"v":96},{"p":7,"g":"0-15","d":2,"v":85},{"p":7,"g":"0-15","d":3,"v":68},{"p":7,"g":"0-15","d":4,"v":55},{"p":7,"g":"0-15","d":5,"v":41},{"p":7,"g":"0-15","d":6,"v":41},{"p":7,"g":"0-15","d":7,"v":37},{"p":7,"g":"0-15","d":8,"v":26},{"p":7,"g":"0-15","d":9,"v":30},{"p":7,"g":"0-15","d":10,"v":26},{"p":7,"g":"0-15","d":11,"v":18},{"p":7,"g":"0-15","d":12,"v":26},{"p":7,"g":"0-15","d":13,"v":22},{"p":7,"g":"0-15","d":14,"v":30},{"p":7,"g":"0-15","d":15,"v":33},{"p":7,"g":"0-15","d":16,"v":33},{"p":7,"g":"0-15","d":17,"v":33},{"p":7,"g":"0-15","d":18,"v":37},{"p":7,"g":"0-15","d":19,"v":30},{"p":7,"g":"0-15","d":20,"v":37},{"p":7,"g":"0-15","d":21,"v":18},{"p":7,"g":"0-15","d":22,"v":15},{"p":7,"g":"0-15","d":23,"v":18},{"p":7,"g":"0-15","d":24,"v":22},
{"p":8,"g":"60+","d":1,"v":101},{"p":8,"g":"60+","d":2,"v":98},{"p":8,"g":"60+","d":3,"v":104},{"p":8,"g":"60+","d":4,"v":98},{"p":8,"g":"60+","d":5,"v":57},{"p":8,"g":"60+","d":6,"v":47},{"p":8,"g":"60+","d":7,"v":47},{"p":8,"g":"60+","d":8,"v":41},{"p":8,"g":"60+","d":9,"v":59},{"p":8,"g":"60+","d":10,"v":47},{"p":8,"g":"60+","d":11,"v":44},{"p":8,"g":"60+","d":12,"v":50},{"p":8,"g":"60+","d":13,"v":54},{"p":8,"g":"60+","d":14,"v":50},{"p":8,"g":"60+","d":15,"v":50},{"p":8,"g":"60+","d":16,"v":47},{"p":8,"g":"60+","d":17,"v":40},{"p":8,"g":"60+","d":18,"v":44},{"p":8,"g":"60+","d":19,"v":30},{"p":8,"g":"60+","d":20,"v":27},{"p":8,"g":"60+","d":21,"v":30},{"p":8,"g":"60+","d":22,"v":30},{"p":8,"g":"60+","d":23,"v":27},{"p":8,"g":"60+","d":24,"v":30},
{"p":8,"g":"45-59","d":1,"v":165},{"p":8,"g":"45-59","d":2,"v":146},{"p":8,"g":"45-59","d":3,"v":135},{"p":8,"g":"45-59","d":4,"v":115},{"p":8,"g":"45-59","d":5,"v":129},{"p":8,"g":"45-59","d":6,"v":120},{"p":8,"g":"45-59","d":7,"v":99},{"p":8,"g":"45-59","d":8,"v":90},{"p":8,"g":"45-59","d":9,"v":79},{"p":8,"g":"45-59","d":10,"v":68},{"p":8,"g":"45-59","d":11,"v":71},{"p":8,"g":"45-59","d":12,"v":56},{"p":8,"g":"45-59","d":13,"v":49},{"p":8,"g":"45-59","d":14,"v":49},{"p":8,"g":"45-59","d":15,"v":38},{"p":8,"g":"45-59","d":16,"v":34},{"p":8,"g":"45-59","d":17,"v":34},{"p":8,"g":"45-59","d":18,"v":30},{"p":8,"g":"45-59","d":19,"v":30},{"p":8,"g":"45-59","d":20,"v":22},{"p":8,"g":"45-59","d":21,"v":22},{"p":8,"g":"45-59","d":22,"v":22},{"p":8,"g":"45-59","d":23,"v":26},{"p":8,"g":"45-59","d":24,"v":26},
{"p":8,"g":"30-44","d":1,"v":281},{"p":8,"g":"30-44","d":2,"v":272},{"p":8,"g":"30-44","d":3,"v":286},{"p":8,"g":"30-44","d":4,"v":262},{"p":8,"g":"30-44","d":5,"v":237},{"p":8,"g":"30-44","d":6,"v":211},{"p":8,"g":"30-44","d":7,"v":189},{"p":8,"g":"30-44","d":8,"v":154},{"p":8,"g":"30-44","d":9,"v":143},{"p":8,"g":"30-44","d":10,"v":145},{"p":8,"g":"30-44","d":11,"v":114},{"p":8,"g":"30-44","d":12,"v":118},{"p":8,"g":"30-44","d":13,"v":114},{"p":8,"g":"30-44","d":14,"v":114},{"p":8,"g":"30-44","d":15,"v":114},{"p":8,"g":"30-44","d":16,"v":92},{"p":8,"g":"30-44","d":17,"v":70},{"p":8,"g":"30-44","d":18,"v":92},{"p":8,"g":"30-44","d":19,"v":57},{"p":8,"g":"30-44","d":20,"v":53},{"p":8,"g":"30-44","d":21,"v":57},{"p":8,"g":"30-44","d":22,"v":75},{"p":8,"g":"30-44","d":23,"v":97},{"p":8,"g":"30-44","d":24,"v":105},
{"p":8,"g":"16-29","d":1,"v":204},{"p":8,"g":"16-29","d":2,"v":169},{"p":8,"g":"16-29","d":3,"v":163},{"p":8,"g":"16-29","d":4,"v":168},{"p":8,"g":"16-29","d":5,"v":160},{"p":8,"g":"16-29","d":6,"v":128},{"p":8,"g":"16-29","d":7,"v":115},{"p":8,"g":"16-29","d":8,"v":109},{"p":8,"g":"16-29","d":9,"v":96},{"p":8,"g":"16-29","d":10,"v":64},{"p":8,"g":"16-29","d":11,"v":58},{"p":8,"g":"16-29","d":12,"v":53},{"p":8,"g":"16-29","d":13,"v":70},{"p":8,"g":"16-29","d":14,"v":70},{"p":8,"g":"16-29","d":15,"v":83},{"p":8,"g":"16-29","d":16,"v":77},{"p":8,"g":"16-29","d":17,"v":90},{"p":8,"g":"16-29","d":18,"v":77},{"p":8,"g":"16-29","d":19,"v":96},{"p":8,"g":"16-29","d":20,"v":90},{"p":8,"g":"16-29","d":21,"v":83},{"p":8,"g":"16-29","d":22,"v":77},{"p":8,"g":"16-29","d":23,"v":83},{"p":8,"g":"16-29","d":24,"v":0},
{"p":8,"g":"0-15","d":1,"v":167},{"p":8,"g":"0-15","d":2,"v":146},{"p":8,"g":"0-15","d":3,"v":146},{"p":8,"g":"0-15","d":4,"v":142},{"p":8,"g":"0-15","d":5,"v":96},{"p":8,"g":"0-15","d":6,"v":108},{"p":8,"g":"0-15","d":7,"v":84},{"p":8,"g":"0-15","d":8,"v":79},{"p":8,"g":"0-15","d":9,"v":71},{"p":8,"g":"0-15","d":10,"v":54},{"p":8,"g":"0-15","d":11,"v":50},{"p":8,"g":"0-15","d":12,"v":46},{"p":8,"g":"0-15","d":13,"v":38},{"p":8,"g":"0-15","d":14,"v":33},{"p":8,"g":"0-15","d":15,"v":38},{"p":8,"g":"0-15","d":16,"v":33},{"p":8,"g":"0-15","d":17,"v":29},{"p":8,"g":"0-15","d":18,"v":29},{"p":8,"g":"0-15","d":19,"v":38},{"p":8,"g":"0-15","d":20,"v":33},{"p":8,"g":"0-15","d":21,"v":29},{"p":8,"g":"0-15","d":22,"v":33},{"p":8,"g":"0-15","d":23,"v":38},{"p":8,"g":"0-15","d":24,"v":33},
{"p":9,"g":"60+","d":1,"v":82},{"p":9,"g":"60+","d":2,"v":94},{"p":9,"g":"60+","d":3,"v":102},{"p":9,"g":"60+","d":4,"v":102},{"p":9,"g":"60+","d":5,"v":111},{"p":9,"g":"60+","d":6,"v":105},{"p":9,"g":"60+","d":7,"v":102},{"p":9,"g":"60+","d":8,"v":96},{"p":9,"g":"60+","d":9,"v":82},{"p":9,"g":"60+","d":10,"v":60},{"p":9,"g":"60+","d":11,"v":62},{"p":9,"g":"60+","d":12,"v":65},{"p":9,"g":"60+","d":13,"v":74},{"p":9,"g":"60+","d":14,"v":71},{"p":9,"g":"60+","d":15,"v":62},{"p":9,"g":"60+","d":16,"v":57},{"p":9,"g":"60+","d":17,"v":57},{"p":9,"g":"60+","d":18,"v":60},{"p":9,"g":"60+","d":19,"v":48},{"p":9,"g":"60+","d":20,"v":34},{"p":9,"g":"60+","d":21,"v":31},{"p":9,"g":"60+","d":22,"v":26},{"p":9,"g":"60+","d":23,"v":20},{"p":9,"g":"60+","d":24,"v":26},
{"p":9,"g":"45-59","d":1,"v":138},{"p":9,"g":"45-59","d":2,"v":113},{"p":9,"g":"45-59","d":3,"v":113},{"p":9,"g":"45-59","d":4,"v":102},{"p":9,"g":"45-59","d":5,"v":102},{"p":9,"g":"45-59","d":6,"v":85},{"p":9,"g":"45-59","d":7,"v":85},{"p":9,"g":"45-59","d":8,"v":74},{"p":9,"g":"45-59","d":9,"v":78},{"p":9,"g":"45-59","d":10,"v":63},{"p":9,"g":"45-59","d":11,"v":49},{"p":9,"g":"45-59","d":12,"v":39},{"p":9,"g":"45-59","d":13,"v":35},{"p":9,"g":"45-59","d":14,"v":35},{"p":9,"g":"45-59","d":15,"v":46},{"p":9,"g":"45-59","d":16,"v":49},{"p":9,"g":"45-59","d":17,"v":56},{"p":9,"g":"45-59","d":18,"v":63},{"p":9,"g":"45-59","d":19,"v":74},{"p":9,"g":"45-59","d":20,"v":81},{"p":9,"g":"45-59","d":21,"v":81},{"p":9,"g":"45-59","d":22,"v":74},{"p":9,"g":"45-59","d":23,"v":60},{"p":9,"g":"45-59","d":24,"v":53},
{"p":9,"g":"30-44","d":1,"v":176},{"p":9,"g":"30-44","d":2,"v":165},{"p":9,"g":"30-44","d":3,"v":169},{"p":9,"g":"30-44","d":4,"v":165},{"p":9,"g":"30-44","d":5,"v":161},{"p":9,"g":"30-44","d":6,"v":139},{"p":9,"g":"30-44","d":7,"v":131},{"p":9,"g":"30-44","d":8,"v":146},{"p":9,"g":"30-44","d":9,"v":116},{"p":9,"g":"30-44","d":10,"v":109},{"p":9,"g":"30-44","d":11,"v":105},{"p":9,"g":"30-44","d":12,"v":98},{"p":9,"g":"30-44","d":13,"v":109},{"p":9,"g":"30-44","d":14,"v":105},{"p":9,"g":"30-44","d":15,"v":83},{"p":9,"g":"30-44","d":16,"v":86},{"p":9,"g":"30-44","d":17,"v":90},{"p":9,"g":"30-44","d":18,"v":90},{"p":9,"g":"30-44","d":19,"v":90},{"p":9,"g":"30-44","d":20,"v":98},{"p":9,"g":"30-44","d":21,"v":116},{"p":9,"g":"30-44","d":22,"v":124},{"p":9,"g":"30-44","d":23,"v":131},{"p":9,"g":"30-44","d":24,"v":135},
{"p":9,"g":"16-29","d":1,"v":210},{"p":9,"g":"16-29","d":2,"v":179},{"p":9,"g":"16-29","d":3,"v":174},{"p":9,"g":"16-29","d":4,"v":159},{"p":9,"g":"16-29","d":5,"v":148},{"p":9,"g":"16-29","d":6,"v":134},{"p":9,"g":"16-29","d":7,"v":143},{"p":9,"g":"16-29","d":8,"v":123},{"p":9,"g":"16-29","d":9,"v":122},{"p":9,"g":"16-29","d":10,"v":102},{"p":9,"g":"16-29","d":11,"v":100},{"p":9,"g":"16-29","d":12,"v":92},{"p":9,"g":"16-29","d":13,"v":77},{"p":9,"g":"16-29","d":14,"v":72},{"p":9,"g":"16-29","d":15,"v":82},{"p":9,"g":"16-29","d":16,"v":97},{"p":9,"g":"16-29","d":17,"v":82},{"p":9,"g":"16-29","d":18,"v":77},{"p":9,"g":"16-29","d":19,"v":87},{"p":9,"g":"16-29","d":20,"v":92},{"p":9,"g":"16-29","d":21,"v":82},{"p":9,"g":"16-29","d":22,"v":77},{"p":9,"g":"16-29","d":23,"v":67},{"p":9,"g":"16-29","d":24,"v":77},
{"p":9,"g":"0-15","d":1,"v":108},{"p":9,"g":"0-15","d":2,"v":95},{"p":9,"g":"0-15","d":3,"v":88},{"p":9,"g":"0-15","d":4,"v":80},{"p":9,"g":"0-15","d":5,"v":69},{"p":9,"g":"0-15","d":6,"v":69},{"p":9,"g":"0-15","d":7,"v":76},{"p":9,"g":"0-15","d":8,"v":99},{"p":9,"g":"0-15","d":9,"v":57},{"p":9,"g":"0-15","d":10,"v":57},{"p":9,"g":"0-15","d":11,"v":57},{"p":9,"g":"0-15","d":12,"v":50},{"p":9,"g":"0-15","d":13,"v":42},{"p":9,"g":"0-15","d":14,"v":34},{"p":9,"g":"0-15","d":15,"v":30},{"p":9,"g":"0-15","d":16,"v":27},{"p":9,"g":"0-15","d":17,"v":27},{"p":9,"g":"0-15","d":18,"v":15},{"p":9,"g":"0-15","d":19,"v":15},{"p":9,"g":"0-15","d":20,"v":15},{"p":9,"g":"0-15","d":21,"v":30},{"p":9,"g":"0-15","d":22,"v":34},{"p":9,"g":"0-15","d":23,"v":50},{"p":9,"g":"0-15","d":24,"v":42}
]},
"concat":[
{"title":{"text":"Spelthorne","dx":37},"transform":[{"filter":"datum.p==1"}],"width":505,"height":218,"encoding":{"x":{"field":"d","type":"ordinal","scale":{"domain":[1,2,3,4,5,6,7,8,9,10,11,12,13,14,15,16,17,18,19,20,21,22,23,24,25]},"axis":null},"y":{"field":"g","type":"nominal","scale":{"domain":["60+","45-59","30-44","16-29","0-15"],"paddingOuter":0.107},"axis":{"title":null}}},"layer":[{"mark":{"type":"rect","stroke":"#fff","strokeWidth":0.6},"encoding":{"color":{"field":"v","type":"quantitative","scale":{"domain":[0,800],"scheme":"inferno","reverse":true,"clamp":true},"legend":{"orient":"none","legendX":1527,"legendY":173.6,"values":[0,200,400,600,800],"labelExpr":"datum.value==800?'800+':datum.label","title":["Confirmed cases","\u00a0per 100,000","\u00a0(7-day rolling rate)"],"titleFontSize":25,"titleFontWeight":"normal","titleFont":"Liberation Sans","titleColor":"#111","titleLineHeight":24,"titlePadding":32.4,"titleLimit":400,"labelFont":"Liberation Sans","labelFontSize":23,"labelColor":"#111","labelOffset":12.5,"gradientThickness":43,"gradientLength":310,"encoding":{"title":{"dx":{"value":-34}},"labels":{"baseline":{"value":"middle"}}}}}}},{"mark":{"type":"text","fontSize":6.5,"font":"Liberation Sans"},"encoding":{"text":{"field":"v"},"color":{"condition":{"test":"datum.v>400","value":"#fff"},"value":"#2a2018"}}}]},
{"title":{"text":"Surrey Heath","dx":35},"transform":[{"filter":"datum.p==2"}],"width":505,"height":218,"encoding":{"x":{"field":"d","type":"ordinal","scale":{"domain":[1,2,3,4,5,6,7,8,9,10,11,12,13,14,15,16,17,18,19,20,21,22,23,24,25]},"axis":null},"y":{"field":"g","type":"nominal","scale":{"domain":["60+","45-59","30-44","16-29","0-15"],"paddingOuter":0.107},"axis":{"labels":false,"ticks":false,"domain":false,"title":null}}},"layer":[{"mark":{"type":"rect","stroke":"#fff","strokeWidth":0.6},"encoding":{"color":{"field":"v","type":"quantitative","scale":{"domain":[0,800],"scheme":"inferno","reverse":true,"clamp":true},"legend":null}}},{"mark":{"type":"text","fontSize":6.5,"font":"Liberation Sans"},"encoding":{"text":{"field":"v"},"color":{"condition":{"test":"datum.v>400","value":"#fff"},"value":"#2a2018"}}}]},
{"title":{"text":"Swale","dx":44},"transform":[{"filter":"datum.p==3"}],"width":505,"height":218,"encoding":{"x":{"field":"d","type":"ordinal","scale":{"domain":[1,2,3,4,5,6,7,8,9,10,11,12,13,14,15,16,17,18,19,20,21,22,23,24,25]},"axis":null},"y":{"field":"g","type":"nominal","scale":{"domain":["60+","45-59","30-44","16-29","0-15"],"paddingOuter":0.107},"axis":{"labels":false,"ticks":false,"domain":false,"title":null}}},"layer":[{"mark":{"type":"rect","stroke":"#fff","strokeWidth":0.6},"encoding":{"color":{"field":"v","type":"quantitative","scale":{"domain":[0,800],"scheme":"inferno","reverse":true,"clamp":true},"legend":null}}},{"mark":{"type":"text","fontSize":6.5,"font":"Liberation Sans"},"encoding":{"text":{"field":"v"},"color":{"condition":{"test":"datum.v>400","value":"#fff"},"value":"#2a2018"}}}]},
{"title":{"text":"Tandridge","dx":37},"transform":[{"filter":"datum.p==4"}],"width":505,"height":218,"encoding":{"x":{"field":"d","type":"ordinal","scale":{"domain":[1,2,3,4,5,6,7,8,9,10,11,12,13,14,15,16,17,18,19,20,21,22,23,24,25]},"axis":null},"y":{"field":"g","type":"nominal","scale":{"domain":["60+","45-59","30-44","16-29","0-15"],"paddingOuter":0.107},"axis":{"title":"Age group"}}},"layer":[{"mark":{"type":"rect","stroke":"#fff","strokeWidth":0.6},"encoding":{"color":{"field":"v","type":"quantitative","scale":{"domain":[0,800],"scheme":"inferno","reverse":true,"clamp":true},"legend":null}}},{"mark":{"type":"text","fontSize":6.5,"font":"Liberation Sans"},"encoding":{"text":{"field":"v"},"color":{"condition":{"test":"datum.v>400","value":"#fff"},"value":"#2a2018"}}}]},
{"title":{"text":"Test Valley","dx":35},"transform":[{"filter":"datum.p==5"}],"width":505,"height":218,"encoding":{"x":{"field":"d","type":"ordinal","scale":{"domain":[1,2,3,4,5,6,7,8,9,10,11,12,13,14,15,16,17,18,19,20,21,22,23,24,25]},"axis":null},"y":{"field":"g","type":"nominal","scale":{"domain":["60+","45-59","30-44","16-29","0-15"],"paddingOuter":0.107},"axis":{"labels":false,"ticks":false,"domain":false,"title":null}}},"layer":[{"mark":{"type":"rect","stroke":"#fff","strokeWidth":0.6},"encoding":{"color":{"field":"v","type":"quantitative","scale":{"domain":[0,800],"scheme":"inferno","reverse":true,"clamp":true},"legend":null}}},{"mark":{"type":"text","fontSize":6.5,"font":"Liberation Sans"},"encoding":{"text":{"field":"v"},"color":{"condition":{"test":"datum.v>400","value":"#fff"},"value":"#2a2018"}}}]},
{"title":{"text":"Thanet","dx":44},"transform":[{"filter":"datum.p==6"}],"width":505,"height":218,"encoding":{"x":{"field":"d","type":"ordinal","scale":{"domain":[1,2,3,4,5,6,7,8,9,10,11,12,13,14,15,16,17,18,19,20,21,22,23,24,25]},"axis":null},"y":{"field":"g","type":"nominal","scale":{"domain":["60+","45-59","30-44","16-29","0-15"],"paddingOuter":0.107},"axis":{"labels":false,"ticks":false,"domain":false,"title":null}}},"layer":[{"mark":{"type":"rect","stroke":"#fff","strokeWidth":0.6},"encoding":{"color":{"field":"v","type":"quantitative","scale":{"domain":[0,800],"scheme":"inferno","reverse":true,"clamp":true},"legend":null}}},{"mark":{"type":"text","fontSize":6.5,"font":"Liberation Sans"},"encoding":{"text":{"field":"v"},"color":{"condition":{"test":"datum.v>400","value":"#fff"},"value":"#2a2018"}}}]},
{"title":{"text":"Tonbridge and Malling","dx":25},"transform":[{"filter":"datum.p==7"}],"width":505,"height":218,"encoding":{"x":{"field":"d","type":"ordinal","scale":{"domain":[1,2,3,4,5,6,7,8,9,10,11,12,13,14,15,16,17,18,19,20,21,22,23,24,25]},"axis":{"values":[4,11,18,25],"title":null}},"y":{"field":"g","type":"nominal","scale":{"domain":["60+","45-59","30-44","16-29","0-15"],"paddingOuter":0.107},"axis":{"title":null}}},"layer":[{"mark":{"type":"rect","stroke":"#fff","strokeWidth":0.6},"encoding":{"color":{"field":"v","type":"quantitative","scale":{"domain":[0,800],"scheme":"inferno","reverse":true,"clamp":true},"legend":null}}},{"mark":{"type":"text","fontSize":6.5,"font":"Liberation Sans"},"encoding":{"text":{"field":"v"},"color":{"condition":{"test":"datum.v>400","value":"#fff"},"value":"#2a2018"}}}]},
{"title":{"text":"Tunbridge Wells","dx":35},"transform":[{"filter":"datum.p==8"}],"width":505,"height":218,"encoding":{"x":{"field":"d","type":"ordinal","scale":{"domain":[1,2,3,4,5,6,7,8,9,10,11,12,13,14,15,16,17,18,19,20,21,22,23,24,25]},"axis":{"values":[4,11,18,25],"title":"Date"}},"y":{"field":"g","type":"nominal","scale":{"domain":["60+","45-59","30-44","16-29","0-15"],"paddingOuter":0.107},"axis":{"labels":false,"ticks":false,"domain":false,"title":null}}},"layer":[{"mark":{"type":"rect","stroke":"#fff","strokeWidth":0.6},"encoding":{"color":{"field":"v","type":"quantitative","scale":{"domain":[0,800],"scheme":"inferno","reverse":true,"clamp":true},"legend":null}}},{"mark":{"type":"text","fontSize":6.5,"font":"Liberation Sans"},"encoding":{"text":{"field":"v"},"color":{"condition":{"test":"datum.v>400","value":"#fff"},"value":"#2a2018"}}}]},
{"title":{"text":"Vale of White Horse","dx":44},"transform":[{"filter":"datum.p==9"}],"width":505,"height":218,"encoding":{"x":{"field":"d","type":"ordinal","scale":{"domain":[1,2,3,4,5,6,7,8,9,10,11,12,13,14,15,16,17,18,19,20,21,22,23,24,25]},"axis":{"values":[4,11,18,25],"title":null}},"y":{"field":"g","type":"nominal","scale":{"domain":["60+","45-59","30-44","16-29","0-15"],"paddingOuter":0.107},"axis":{"labels":false,"ticks":false,"domain":false,"title":null}}},"layer":[{"mark":{"type":"rect","stroke":"#fff","strokeWidth":0.6},"encoding":{"color":{"field":"v","type":"quantitative","scale":{"domain":[0,800],"scheme":"inferno","reverse":true,"clamp":true},"legend":null}}},{"mark":{"type":"text","fontSize":6.5,"font":"Liberation Sans"},"encoding":{"text":{"field":"v"},"color":{"condition":{"test":"datum.v>400","value":"#fff"},"value":"#2a2018"}}}]}
]}
